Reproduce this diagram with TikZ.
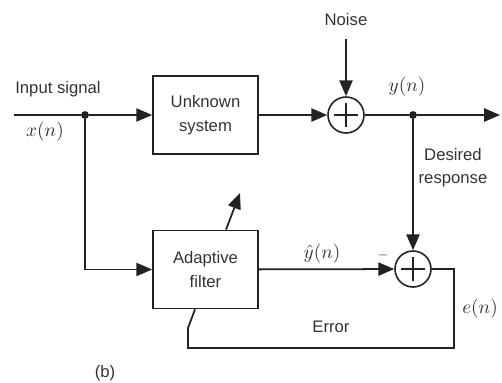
\documentclass[tikz,border=0pt]{standalone}
\usepackage{fontspec}
\setmainfont{Liberation Sans}
\usetikzlibrary{arrows.meta}
\definecolor{linecolor}{RGB}{34,34,34}
\definecolor{textcolor}{RGB}{51,51,51}

\tikzset{
  blockbox/.style={draw=linecolor,line width=1pt,minimum width=2.1cm,minimum height=1.56cm,
    align=center,text=textcolor,font=\fontsize{9.5}{13.5}\selectfont},
  sumnode/.style={draw=linecolor,circle,line width=0.9pt,minimum size=0.72cm,inner sep=0pt},
  lbl/.style={text=textcolor,font=\fontsize{9.5}{13}\selectfont,align=center},
  mathlbl/.style={lbl,font=\fontsize{11}{13}\selectfont,inner sep=1pt},
  wire/.style={draw=linecolor,line width=1pt},
  sig/.style={wire,-{Triangle[length=9pt,width=7.5pt]}},
  dot/.style={circle,fill=linecolor,inner sep=0pt,minimum size=4.5pt},
}

\begin{document}
\begin{tikzpicture}
  \useasboundingbox (0,0) rectangle (10.04,-7.64);
  % blocks and junctions
  \coordinate (in) at (0.28,-2.30);
  \node[dot] (split) at (1.70,-2.30) {};
  \node[blockbox] (unk) at (4.11,-2.30) {Unknown\\system};
  \node[sumnode] (sum1) at (6.92,-2.30) {};
  \node[dot] (tap) at (8.26,-2.30) {};
  \coordinate (out) at (10.0,-2.30);
  \node[lbl] (noise) at (6.92,-0.40) {Noise};
  \node[blockbox] (adf) at (4.11,-5.39) {Adaptive\\filter};
  \node[sumnode] (sum2) at (8.26,-5.38) {};
  \coordinate (adj) at (4.80,-3.86);
  \coordinate (ecorner) at (9.08,-6.96);
  \coordinate (ebend) at (3.76,-6.56);
  % plus signs
  \foreach \s in {sum1,sum2}{
    \draw[linecolor,line width=0.8pt] ([yshift=-4pt]\s.north) -- ([yshift=4pt]\s.south);
    \draw[linecolor,line width=0.8pt] ([xshift=4pt]\s.west) -- ([xshift=-4pt]\s.east);
  }
  % signal paths
  \draw[wire] (in) -- (split);
  \draw[sig] (split) -- (unk);
  \draw[sig] (unk) -- (sum1);
  \draw[wire] (sum1) -- (tap);
  \draw[sig] (tap) -- (out);
  \draw[sig] ([yshift=-4pt]noise.south) -- (sum1);
  \draw[sig] (tap) -- (sum2);
  \draw[sig] (split) |- (adf);
  \draw[sig] (adf) -- (sum2);
  \draw[wire] (sum2) -| (ecorner) -| (ebend) -- ([xshift=-0.21cm]adf.south);
  \draw[sig] ([xshift=0.41cm]adf.north) -- (adj);
  % labels
  \node[lbl] (insig) at (1.16,-1.78) {Input signal};
  \node[mathlbl] (xn) at (0.90,-2.64) {$x(n)$};
  \node[mathlbl] (yn) at (8.14,-1.74) {$y(n)$};
  \node[lbl] (des) at (9.06,-3.36) {Desired\\response};
  \node[mathlbl] (yhat) at (6.44,-5.08) {$\hat{y}(n)$};
  \node[lbl,font=\scriptsize] (minus) at (7.66,-5.10) {$-$};
  \node[lbl] (err) at (6.62,-6.54) {Error};
  \node[mathlbl] (en) at (9.60,-6.18) {$e(n)$};
  \node[lbl] (capb) at (2.10,-7.46) {(b)};
\end{tikzpicture}
\end{document}
